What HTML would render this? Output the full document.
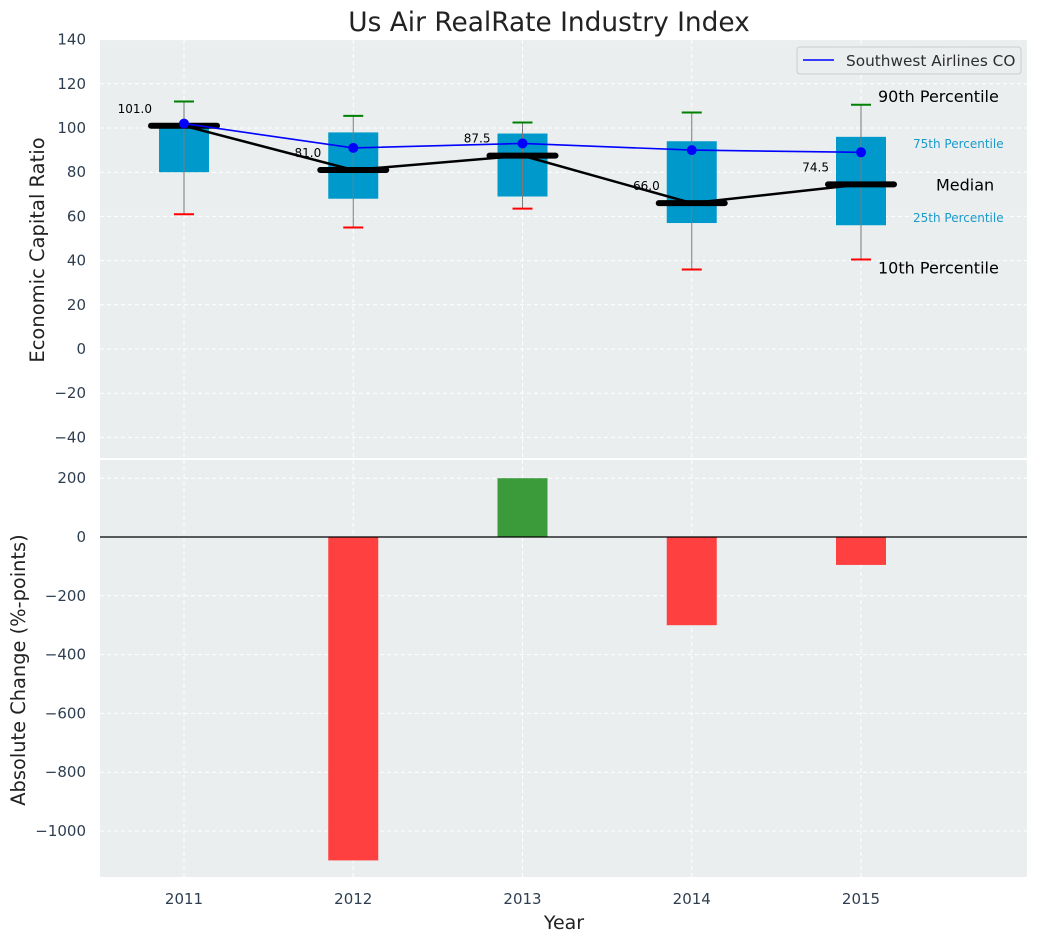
<!DOCTYPE html>
<html><head><meta charset="utf-8"><style>
body{margin:0;background:#fff;font-family:"Liberation Sans","DejaVu Sans",sans-serif}
svg text{font-family:"DejaVu Sans","Liberation Sans",sans-serif}
</style></head><body>
<svg id="c" width="1039" height="942" xmlns="http://www.w3.org/2000/svg"></svg>
<script>
const years=[2011,2012,2013,2014,2015];
const q10=[61,55,63.5,36,40.5];
const q25=[80,68,69,57,56];
const med=[101,81,87.5,66,74.5];
const q75=[102,98,97.5,94,96];
const q90=[112,105.5,102.5,107,110.5];
const southwest=[102,91,93,90,89];
const changes=[0,-1100,200,-300,-95];
const topTicks=[-40,-20,0,20,40,60,80,100,120,140];
const botTicks=[-1000,-800,-600,-400,-200,0,200];
const NS='http://www.w3.org/2000/svg',svg=document.getElementById('c');
function el(t,a,txt){const e=document.createElementNS(NS,t);for(const k in a)e.setAttribute(k,a[k]);if(txt!==undefined)e.textContent=txt;svg.appendChild(e);return e;}
const L=100,R=1027;
const X=v=>184+(v-2011)*169.25;
const Y1=v=>349-v*2.21;
const Y2=v=>537-v*0.294;
let e;
e=el('rect',{x:L,y:40,width:R-L,height:418,fill:'#eaeeef'});

e=el('rect',{x:L,y:460,width:R-L,height:417,fill:'#eaeeef'});

topTicks.forEach(t=>{const y=Y1(t);
 el('line',{x1:L,x2:R,y1:y,y2:y,stroke:'#fff','stroke-dasharray':'4,3','stroke-width':1});
 e=el('text',{x:86,y:y+5,'text-anchor':'end','font-size':15,fill:'#2e3e50'},t<0?'\u2212'+(-t):t);
 });
botTicks.forEach(t=>{const y=Y2(t);
 el('line',{x1:L,x2:R,y1:y,y2:y,stroke:'#fff','stroke-dasharray':'4,3','stroke-width':1});
 e=el('text',{x:86,y:y+5,'text-anchor':'end','font-size':15,fill:'#2e3e50'},t<0?'\u2212'+(-t):t);
 });
years.forEach(yr=>{const x=X(yr);
 el('line',{x1:x,x2:x,y1:40,y2:458,stroke:'#fff','stroke-dasharray':'4,3'});
 el('line',{x1:x,x2:x,y1:460,y2:877,stroke:'#fff','stroke-dasharray':'4,3'});
 e=el('text',{x:x,y:904,'text-anchor':'middle','font-size':15,fill:'#2e3e50'},yr);
 });
years.forEach((yr,i)=>{const x=X(yr);
 e=el('rect',{x:x-25,y:Y1(q75[i]),width:50,height:Y1(q25[i])-Y1(q75[i]),fill:'#0099cc'});
 
 el('line',{x1:x,x2:x,y1:Y1(q90[i]),y2:Y1(q10[i]),stroke:'#7a7a7a','stroke-width':1});
 el('line',{x1:x-10,x2:x+10,y1:Y1(q90[i]),y2:Y1(q90[i]),stroke:'green','stroke-width':2});
 el('line',{x1:x-10,x2:x+10,y1:Y1(q10[i]),y2:Y1(q10[i]),stroke:'red','stroke-width':2});
});
e=el('polyline',{points:years.map((y,i)=>X(y)+','+Y1(med[i])).join(' '),fill:'none',stroke:'#000','stroke-width':2.5});

years.forEach((yr,i)=>{const x=X(yr);
 e=el('line',{x1:x-33,x2:x+33,y1:Y1(med[i]),y2:Y1(med[i]),stroke:'#000','stroke-width':6,'stroke-linecap':'round'});
 
 el('text',{x:x-32,y:Y1(med[i])-13,'text-anchor':'end','font-size':12,fill:'#000'},med[i].toFixed(1));
});
e=el('polyline',{points:years.map((y,i)=>X(y)+','+Y1(southwest[i])).join(' '),fill:'none',stroke:'blue','stroke-width':1.6});

years.forEach((yr,i)=>{e=el('circle',{cx:X(yr),cy:Y1(southwest[i]),r:5,fill:'blue'});
 });
const ax=X(2015);
el('text',{x:ax+17,y:Y1(q90[4])-3,'font-size':16,fill:'#000'},'90th Percentile');
el('text',{x:ax+52,y:Y1(q75[4])+11,'font-size':12,fill:'#1a9acb'},'75th Percentile');
el('text',{x:ax+75,y:Y1(med[4])+6,'font-size':16,fill:'#000'},'Median');
el('text',{x:ax+52,y:Y1(q25[4])-3,'font-size':12,fill:'#1a9acb'},'25th Percentile');
el('text',{x:ax+17,y:Y1(q10[4])+14,'font-size':16,fill:'#000'},'10th Percentile');
e=el('rect',{x:797,y:47,width:224,height:27,rx:3,fill:'#eaeeef',stroke:'#ccc'});

el('line',{x1:803,x2:834,y1:60,y2:60,stroke:'blue','stroke-width':1.6});
el('text',{x:846,y:66,'font-size':15.3,fill:'#2e2e2e'},'Southwest Airlines CO');
years.forEach((yr,i)=>{if(!changes[i])return;const x=X(yr);const y0=Y2(0),y=Y2(changes[i]);
 e=el('rect',{x:x-25,y:Math.min(y0,y),width:50,height:Math.abs(y-y0),fill:changes[i]>0?'#3b9b3b':'#ff4040'});
 });
el('line',{x1:L,x2:R,y1:Y2(0),y2:Y2(0),stroke:'#000','stroke-width':1.2});
e=el('text',{x:549,y:31,'text-anchor':'middle','font-size':26.4,fill:'#222'},'Us Air RealRate Industry Index');

e=el('text',{x:44,y:250,'text-anchor':'middle','font-size':19.5,fill:'#222',transform:'rotate(-90 44 250)'},'Economic Capital Ratio');

e=el('text',{x:25,y:670,'text-anchor':'middle','font-size':19.4,fill:'#222',transform:'rotate(-90 25 670)'},'Absolute Change (%-points)');

e=el('text',{x:564,y:929,'text-anchor':'middle','font-size':19,fill:'#222'},'Year');

</script>
</body></html>
